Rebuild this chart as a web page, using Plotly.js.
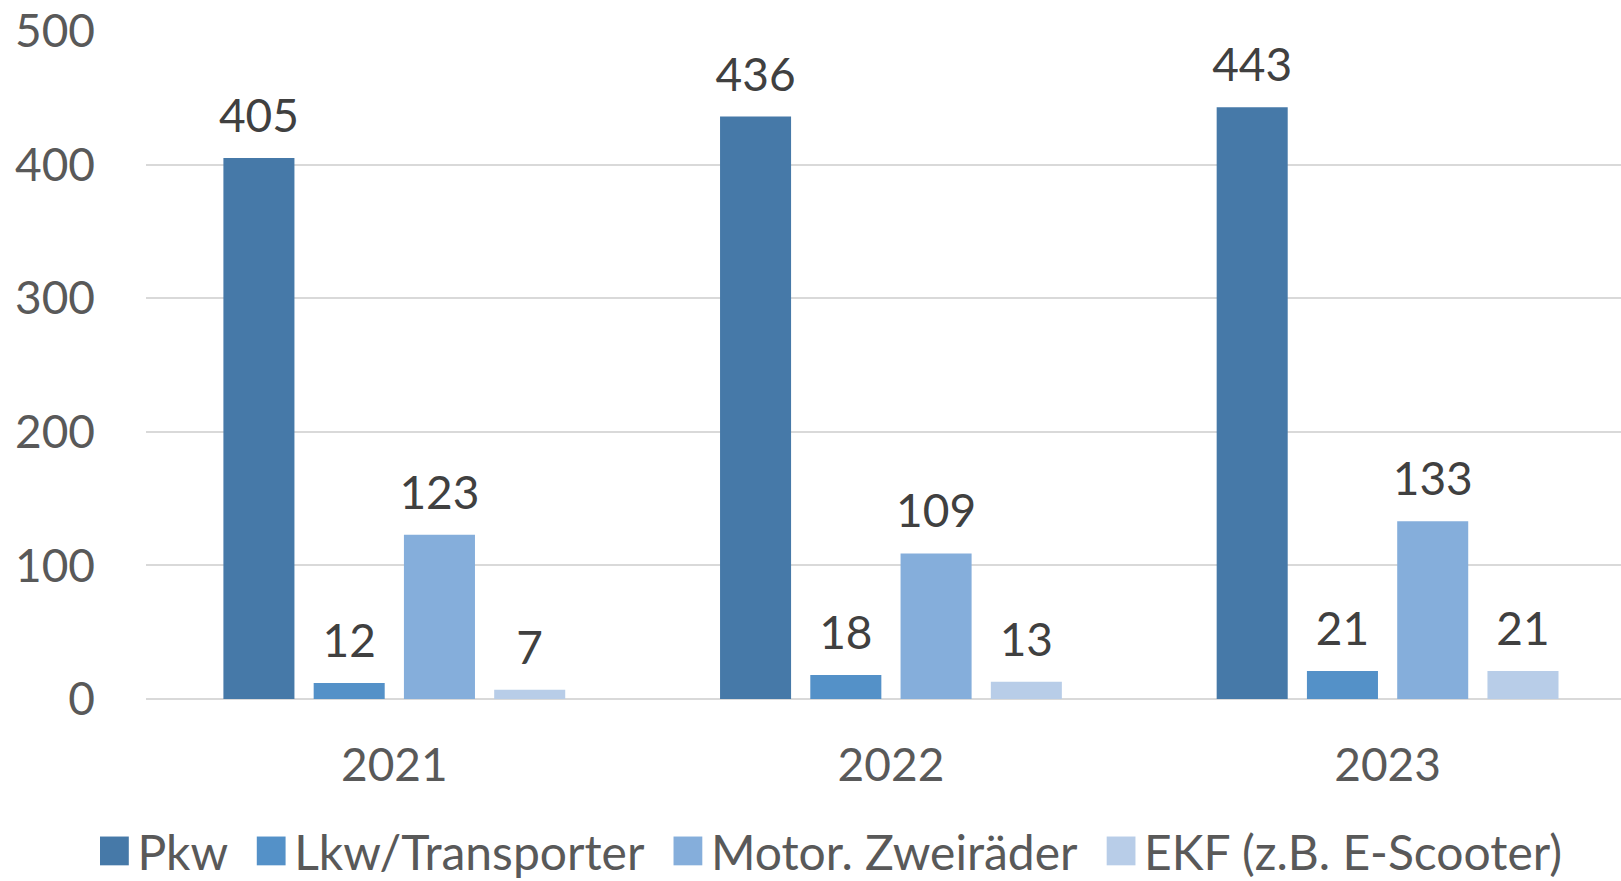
<!DOCTYPE html>
<html>
<head>
<meta charset="utf-8">
<script src="https://cdn.plot.ly/plotly-3.0.1.min.js"></script>
<style>html,body{margin:0;padding:0;background:#fff;}#chart{width:1621px;height:881px;}</style>
</head>
<body>
<div id="chart"></div>
<script>
const years = ["2021", "2022", "2023"];
const seriesNames = ["Pkw", "Lkw/Transporter", "Motor. Zweiräder", "EKF (z.B. E-Scooter)"];
const pkw = [405, 436, 443];
const lkw = [12, 18, 21];
const motor = [123, 109, 133];
const ekf = [7, 13, 21];
const colors = ["#4679A8", "#5491C8", "#85AEDB", "#B8CDE8"];

const values = [pkw, lkw, motor, ekf];
const traces = values.map((v, i) => ({
  type: "bar",
  name: seriesNames[i],
  x: years,
  y: v,
  text: v.map(String),
  textposition: "outside",
  constraintext: "none",
  cliponaxis: false,
  textfont: {family: "Lato, 'Open Sans', sans-serif", size: 46, color: "#404040"},
  marker: {color: colors[i]},
  hoverinfo: "x+y+name"
}));

const layout = {
  width: 1621, height: 881,
  margin: {l: 146, r: 0, t: 31, b: 182, autoexpand: false},
  paper_bgcolor: "#ffffff",
  plot_bgcolor: "#ffffff",
  font: {family: "Lato, 'Open Sans', sans-serif", color: "#595959"},
  barmode: "group",
  bargap: 0.273,
  bargroupgap: 0.213,
  showlegend: true,
  legend: {
    orientation: "h",
    x: 0, xanchor: "left",
    y: -0.171, yanchor: "top",
    bgcolor: "rgba(0,0,0,0)",
    font: {size: 48, color: "#595959"},
    itemwidth: 30,
    traceorder: "normal"
  },
  xaxis: {
    type: "category",
    range: [-0.5, 2.47],
    showgrid: false,
    zeroline: false,
    showline: false,
    ticks: "",
    tickfont: {size: 46, color: "#595959"},
    ticklabelstandoff: 35
  },
  yaxis: {
    range: [0, 500],
    tickvals: [0, 100, 200, 300, 400, 500],
    showgrid: true,
    gridcolor: "#d9d9d9",
    gridwidth: 2,
    zeroline: true,
    zerolinecolor: "#d9d9d9",
    zerolinewidth: 2,
    showline: false,
    ticks: "",
    tickfont: {size: 46, color: "#595959"},
    ticklabelstandoff: 50
  }
};

Plotly.newPlot("chart", traces, layout, {displayModeBar: false, staticPlot: true}).then(gd => {
  // no clipping of the legend row
  gd.querySelectorAll("g.legend [clip-path], g.legend").forEach(e => e.removeAttribute("clip-path"));
  // enlarge legend squares to match the reference
  gd.querySelectorAll(".legendpoints path").forEach(p => {
    const t = p.getAttribute("transform") || "";
    p.setAttribute("transform", t + " translate(-3,0) scale(2.4)");
  });
  // widen spacing between legend entries
  const items = gd.querySelectorAll("g.legend g.traces");
  items.forEach((g, i) => {
    const t = g.getAttribute("transform") || "";
    g.setAttribute("transform", t + " translate(" + (i * 21) + ",0)");
  });
  // place first legend square at the reference position
  const leg = gd.querySelector("g.legend");
  const first = gd.querySelector("g.legend g.traces .legendpoints path");
  if (leg && first) {
    const dx = 100 - first.getBoundingClientRect().left;
    const t = leg.getAttribute("transform") || "";
    leg.setAttribute("transform", t + " translate(" + dx + ",0)");
  }
  // lift value labels a little above the bars
  gd.querySelectorAll(".bartext").forEach(el => {
    const t = el.getAttribute("transform") || "";
    el.setAttribute("transform", "translate(0,-13) " + t);
  });
});
</script>
</body>
</html>
